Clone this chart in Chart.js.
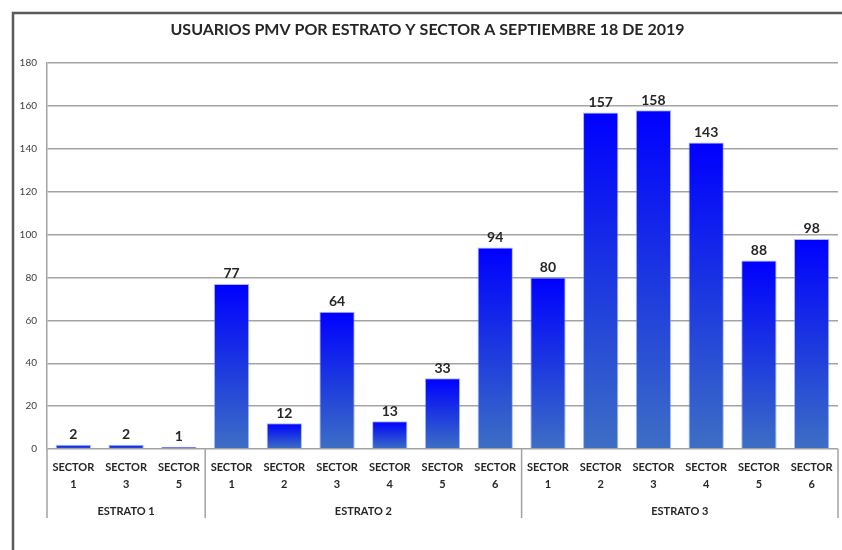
<!DOCTYPE html>
<html>
  <head>
    <meta charset="utf-8">
    <title>Usuarios PMV</title>
    <script src="https://cdn.jsdelivr.net/npm/chart.js"></script>
    <style>
      html,
      body {
        margin: 0;
        padding: 0;
        background-color: white;
        overflow: hidden;
      }
      #wrap {
        width: 842px;
        height: 550px;
        position: relative;
      }
    </style>
  </head>
  <body>
    <div id="wrap">
      <canvas id="chartCanvas"></canvas>
    </div>
    <script>
      // data
      const sectorLabels = [
        ["SECTOR", "1"], ["SECTOR", "3"], ["SECTOR", "5"],
        ["SECTOR", "1"], ["SECTOR", "2"], ["SECTOR", "3"], ["SECTOR", "4"], ["SECTOR", "5"], ["SECTOR", "6"],
        ["SECTOR", "1"], ["SECTOR", "2"], ["SECTOR", "3"], ["SECTOR", "4"], ["SECTOR", "5"], ["SECTOR", "6"],
      ];
      const estratoNames = ["ESTRATO 1", "ESTRATO 2", "ESTRATO 3"];
      const estratoSizes = [3, 6, 6];
      const usuarios = [2, 2, 1, 77, 12, 64, 13, 33, 94, 80, 157, 158, 143, 88, 98];
      const yMax = 180;
      const yStep = 20;

      const textColor = "#262626";
      const gridColor = "#a3a3a3";

      // per-bar gradient, blue on top going to steel blue at the base
      function barGradient(context) {
        const chart = context.chart;
        if (!chart.chartArea || context.type !== "data") return "#1f3fe0";
        const y = chart.scales.y;
        const top = y.getPixelForValue(context.raw);
        const bottom = y.getPixelForValue(0);
        const g = chart.ctx.createLinearGradient(0, top, 0, bottom);
        g.addColorStop(0, "#0000ff");
        g.addColorStop(0.5, "#1c38e0");
        g.addColorStop(1, "#3d6fc4");
        return g;
      }

      const framePlugin = {
        id: "frame",
        beforeDraw(chart) {
          const ctx = chart.ctx;
          ctx.save();
          ctx.fillStyle = "white";
          ctx.fillRect(0, 0, chart.width, chart.height);
          ctx.strokeStyle = "#5a5a5a";
          ctx.lineWidth = 2.5;
          ctx.strokeRect(13, 13, chart.width + 20, chart.height + 20);
          ctx.restore();
        },
      };

      const valueLabels = {
        id: "valueLabels",
        afterDatasetsDraw(chart) {
          const ctx = chart.ctx;
          const meta = chart.getDatasetMeta(0);
          ctx.save();
          ctx.font = "bold 14px Lato";
          ctx.fillStyle = textColor;
          ctx.textAlign = "center";
          ctx.textBaseline = "bottom";
          meta.data.forEach((bar, i) => {
            ctx.fillText(usuarios[i], bar.x, bar.y - 3);
          });
          ctx.restore();
        },
      };

      // group separators and estrato names under the sector labels
      const groupAxis = {
        id: "groupAxis",
        afterDraw(chart) {
          const ctx = chart.ctx;
          const x = chart.scales.x;
          const area = chart.chartArea;
          const half = (x.getPixelForValue(1) - x.getPixelForValue(0)) / 2;
          ctx.save();
          ctx.strokeStyle = gridColor;
          ctx.lineWidth = 1.5;
          ctx.fillStyle = textColor;
          ctx.font = "bold 11px Lato";
          ctx.textAlign = "center";
          ctx.textBaseline = "middle";
          let start = 0;
          const edges = [area.left];
          estratoSizes.forEach((n, k) => {
            const left = x.getPixelForValue(start) - half;
            const right = x.getPixelForValue(start + n - 1) + half;
            edges.push(right);
            ctx.fillText(estratoNames[k], (left + right) / 2, area.bottom + 62);
            start += n;
          });
          edges.forEach((ex) => {
            ctx.beginPath();
            ctx.moveTo(ex, area.bottom);
            ctx.lineTo(ex, area.bottom + 69);
            ctx.stroke();
          });
          ctx.restore();
        },
      };

      const ctx = document.getElementById("chartCanvas");

      const chart = new Chart(ctx, {
        type: "bar",
        data: {
          labels: sectorLabels,
          datasets: [
            {
              label: "Usuarios",
              data: usuarios,
              backgroundColor: barGradient,
              borderColor: "rgba(110,140,255,0.6)",
              borderWidth: 1,
              barPercentage: 0.67,
              categoryPercentage: 1,
            },
          ],
        },
        options: {
          responsive: true,
          maintainAspectRatio: false,
          animation: false,
          layout: {
            padding: { left: 17, right: 4, top: 0, bottom: 0 },
          },
          scales: {
            x: {
              grid: { display: false },
              border: { display: false },
              ticks: {
                color: textColor,
                font: { family: "Lato", size: 11, weight: "bold", lineHeight: 1.55 },
                padding: 2,
                maxRotation: 0,
                autoSkip: false,
              },
              afterFit(scale) {
                scale.height = 101;
              },
            },
            y: {
              min: 0,
              max: yMax,
              grid: { color: gridColor, lineWidth: 1.5, drawTicks: false },
              border: { display: true, color: gridColor, width: 1.5 },
              ticks: {
                stepSize: yStep,
                color: "#404040",
                font: { family: "Lato", size: 10 },
                padding: 10,
              },
              afterFit(scale) {
                scale.width = 30;
              },
            },
          },
          plugins: {
            legend: { display: false },
            tooltip: { enabled: false },
            title: {
              display: true,
              text: "USUARIOS PMV POR ESTRATO Y SECTOR A SEPTIEMBRE 18 DE 2019",
              color: textColor,
              font: { family: "Lato", size: 16, weight: "bold", lineHeight: 1.2 },
              padding: { top: 20, bottom: 24 },
            },
          },
        },
        plugins: [framePlugin, valueLabels, groupAxis],
      });
    </script>
  </body>
</html>
